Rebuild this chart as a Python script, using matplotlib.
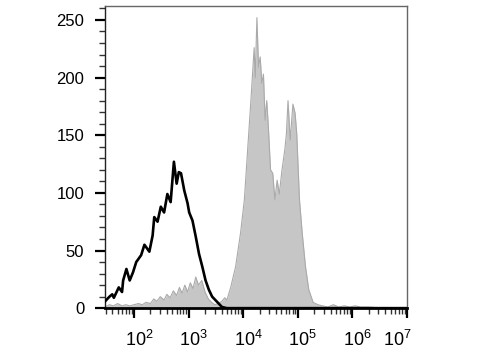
import numpy as np
import matplotlib
matplotlib.use("Agg")
import matplotlib.pyplot as plt
import matplotlib.transforms as mtransforms
from matplotlib.ticker import LogLocator, FixedLocator, MultipleLocator, NullFormatter

plt.rcParams['font.family'] = ['Liberation Sans', 'DejaVu Sans']
plt.rcParams['mathtext.fontset'] = 'custom'
plt.rcParams['mathtext.rm'] = 'Liberation Sans'
plt.rcParams['mathtext.it'] = 'Liberation Sans'

# isotype control (black line): log10 fluorescence, counts
ctrl_log = [1.47, 1.51, 1.55, 1.60, 1.63, 1.67, 1.72, 1.78, 1.80, 1.86, 1.92, 1.98,
            2.04, 2.13, 2.19, 2.28, 2.34, 2.37, 2.43, 2.49, 2.55, 2.61, 2.67, 2.73,
            2.78, 2.82, 2.86, 2.92, 2.98, 3.01, 3.07, 3.13, 3.19, 3.25, 3.31, 3.37,
            3.43, 3.49, 3.55, 3.61, 3.70, 4.5, 5.5, 6.5, 7.0]
ctrl_cnt = [6, 8, 10, 12, 9, 13, 18, 14, 24, 34, 24, 31,
            40, 46, 55, 49, 63, 79, 75, 88, 83, 99, 92, 127,
            108, 118, 117, 102, 91, 83, 76, 62, 47, 36, 24, 16,
            10, 7, 4, 1, 0, 0, 0, 0, 0]

# stained sample (gray filled)
samp_log = [1.47, 1.55, 1.62, 1.70, 1.78, 1.85, 1.92, 2.00, 2.08, 2.15, 2.22, 2.30,
            2.36, 2.42, 2.48, 2.55, 2.60, 2.66, 2.72, 2.78, 2.83, 2.88, 2.93, 2.98,
            3.03, 3.08, 3.13, 3.18, 3.24, 3.30, 3.36, 3.42, 3.48, 3.55, 3.61, 3.66,
            3.70, 3.77, 3.86, 3.95, 4.02, 4.08, 4.14, 4.20, 4.22, 4.25, 4.28, 4.31,
            4.34, 4.37, 4.40, 4.43, 4.46, 4.50, 4.54, 4.58, 4.62, 4.66, 4.71, 4.76,
            4.79, 4.82, 4.86, 4.91, 4.95, 4.98, 5.03, 5.08, 5.14, 5.20, 5.28, 5.37,
            5.45, 5.55, 5.65, 5.75, 5.85, 5.95, 6.05, 6.15, 6.3, 6.6, 7.0]
samp_cnt = [1, 3, 2, 4, 2, 3, 2, 3, 4, 3, 5, 4,
            8, 6, 10, 7, 12, 9, 15, 11, 18, 13, 20, 14,
            22, 17, 27, 20, 24, 14, 8, 5, 3, 4, 6, 9,
            7, 18, 36, 65, 94, 137, 180, 226, 200, 252, 209, 218,
            195, 203, 163, 180, 157, 120, 117, 94, 111, 99, 120, 137,
            151, 180, 146, 177, 169, 151, 94, 65, 36, 16, 5, 3,
            2, 1, 3, 1, 2, 1, 2, 1, 1, 0, 0]

xticks_exp = [2, 3, 4, 5, 6, 7]
yticks = [0, 50, 100, 150, 200, 250]

fig = plt.figure(figsize=(4.8, 3.6), dpi=100)
ax = fig.add_axes([0.219, 0.144, 0.629, 0.839])

sx = 10 ** np.array(samp_log)
ax.fill_between(sx, samp_cnt, 0, color='#c6c6c6', lw=0, zorder=1)
ax.plot(sx, samp_cnt, color='#aaaaaa', lw=0.8, zorder=2)
ax.plot(10 ** np.array(ctrl_log), ctrl_cnt, color='black', lw=1.9, zorder=3)

ax.set_xscale('log')
ax.set_xlim(10 ** 1.47, 10 ** 7.0)
ax.set_ylim(0, 262)

ax.xaxis.set_major_locator(FixedLocator([10.0 ** e for e in xticks_exp]))
ax.set_xticklabels([f'$10^{{{e}}}$' for e in xticks_exp])
ax.xaxis.set_minor_locator(LogLocator(base=10, subs=np.arange(2, 10), numticks=20))
ax.xaxis.set_minor_formatter(NullFormatter())

ax.set_yticks(yticks)
ax.yaxis.set_minor_locator(MultipleLocator(10))

ax.tick_params(axis='both', which='major', direction='out', length=7, width=1.6,
               labelsize=12, color='black')
ax.tick_params(axis='both', which='minor', direction='out', length=4, width=1.0,
               color='#333333')
ax.tick_params(axis='x', which='major', pad=9, labelsize=13)
ax.tick_params(axis='y', which='major', pad=8)

labs = ax.get_xticklabels()
for i, lab in enumerate(labs):
    dx = -10 if i == len(labs) - 1 else 5
    off = mtransforms.ScaledTranslation(dx / 100, 0, fig.dpi_scale_trans)
    lab.set_transform(lab.get_transform() + off)

for s in ['top', 'right']:
    ax.spines[s].set_color('#666666')
    ax.spines[s].set_linewidth(1.0)
ax.spines['left'].set_color('#222222')
ax.spines['left'].set_linewidth(1.0)
ax.spines['bottom'].set_color('black')
ax.spines['bottom'].set_linewidth(2.0)

fig.savefig('out.png', dpi=100)
